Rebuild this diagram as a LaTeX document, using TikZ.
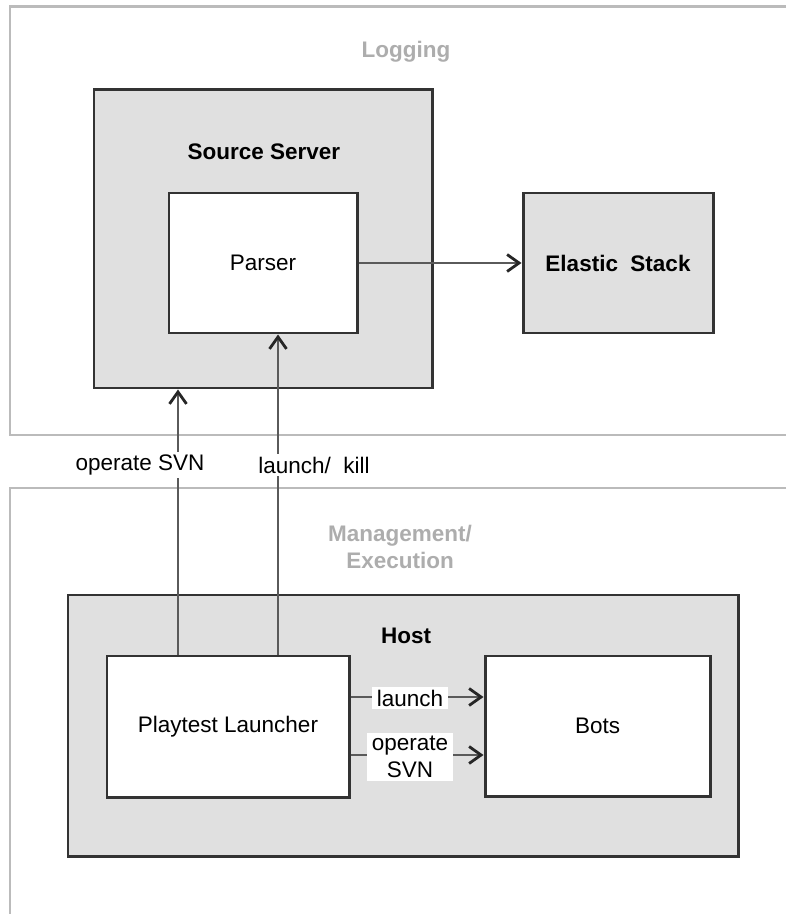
\documentclass[tikz,border=0pt]{standalone}
\usepackage{fontspec}
\setmainfont{Liberation Sans}
\usetikzlibrary{fit,arrows.meta}

\definecolor{boxgray}{HTML}{E0E0E0}
\definecolor{edgedark}{HTML}{333333}
\definecolor{zonegray}{HTML}{BBBBBB}
\definecolor{zonetext}{HTML}{ADADAD}
\definecolor{flowgray}{HTML}{5A5A5A}
\newcommand{\sizeset}{\fontsize{12.8pt}{15.5pt}\selectfont}

\tikzset{
  zone/.style={draw=zonegray, line width=1.7pt},
  zonelabel/.style={text=zonetext, font=\sizeset\bfseries, align=center},
  outerbox/.style={draw=edgedark, fill=boxgray, line width=1.7pt, inner sep=0pt},
  innerbox/.style={draw=edgedark, fill=white, line width=1.7pt, inner sep=0pt},
  boxtext/.style={font=\sizeset},
  boxtitle/.style={font=\sizeset\bfseries},
  flow/.style={draw=flowgray, line width=1.3pt,
    -{Straight Barb[length=2.4mm, width=3.4mm, line width=1.6pt, color=black!85]}},
  flowlabel/.style={fill=white, inner xsep=1mm, inner ysep=0.6mm, align=center, font=\sizeset}
}

\begin{document}
\begin{tikzpicture}[x=0.2mm, y=-0.2mm]
%\draw[help lines, step=50] (0,0) grid (786,914);
\useasboundingbox (0,0) rectangle (786,914);

% zones
\draw[zone] (786,7) -| (10,435) -- (786,435);
\draw[zone] (786,488) -| (10,914);
\node[zonelabel] (logging) at (406,52) {Logging};
\node[zonelabel] (management) at (400,547) {Management/\\Execution};

% logging side
\node[outerbox, fit={(94,90) (432,388)}] (server) {};
\node[boxtitle] (servertitle) at (264,152) {Source Server};
\node[innerbox, fit={(169,193) (357,333)}, label={[boxtext]center:Parser}] (parser) {};
\node[outerbox, fit={(523,193) (713,333)}, label={[boxtitle]center:Elastic\ \ Stack}] (elastic) {};

% host side
\node[outerbox, fit={(68,595) (738,856)}] (host) {};
\node[boxtitle] (hosttitle) at (406,636) {Host};
\node[innerbox, fit={(107,656) (349,797)}, label={[boxtext]center:Playtest Launcher}] (launcher) {};
\node[innerbox, fit={(485,656) (710,796)}, label={[boxtext]center:Bots}] (bots) {};

\coordinate (svnx) at (178,0);
\coordinate (killx) at (278,0);
\coordinate (launchy) at (0,697);
\coordinate (opy) at (0,755);

\draw[flow] (parser.east) -- (elastic.west);
\draw[flow] (launcher.north -| svnx) -- (server.south -| svnx);
\draw[flow] (launcher.north -| killx) -- (parser.south -| killx);
\draw[flow] (launcher.east |- launchy) -- (bots.west |- launchy);
\draw[flow] (launcher.east |- opy) -- (bots.west |- opy);

\node[flowlabel] (svnlabel) at (140,465) {operate SVN};
\node[flowlabel] (killlabel) at (314,465) {launch/\ \ kill};
\node[flowlabel] (launchlabel) at (410,698) {launch};
\node[flowlabel] (oplabel) at (410,757) {operate\\SVN};
\end{tikzpicture}
\end{document}
